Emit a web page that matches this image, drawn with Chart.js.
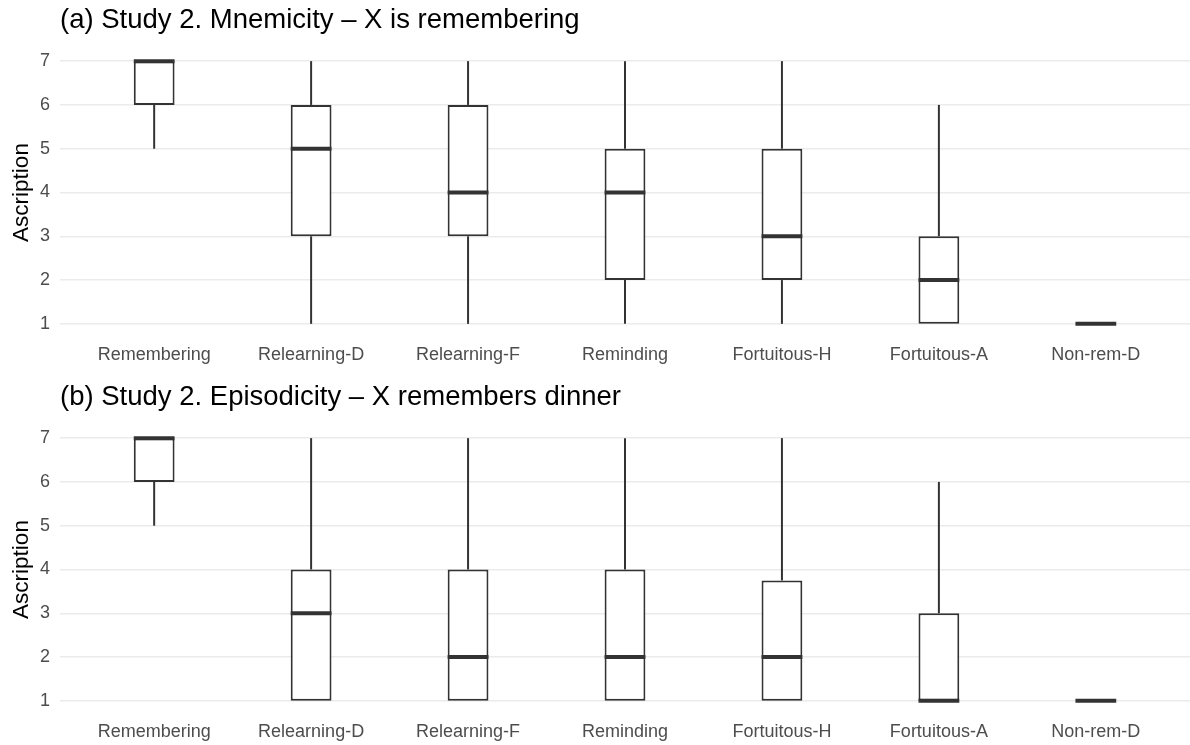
<!DOCTYPE html>
<html>
<head>
<meta charset="utf-8">
<script src="https://cdn.jsdelivr.net/npm/chart.js@4.4.1/dist/chart.umd.min.js"></script>
<style>
  html, body { margin: 0; padding: 0; background: #ffffff; }
  #wrap { position: relative; width: 1190px; height: 745px; }
  .panel { position: absolute; left: 0; width: 1190px; }
  #pa { top: 0; height: 372px; }
  #pb { top: 377px; height: 368px; }
</style>
</head>
<body>
<div id="wrap">
  <div class="panel" id="pa"><canvas id="ca"></canvas></div>
  <div class="panel" id="pb"><canvas id="cb"></canvas></div>
</div>
<script>
// Scenario categories (x axis) and rating scale ticks (y axis)
const categories = ['Remembering', 'Relearning-D', 'Relearning-F', 'Reminding', 'Fortuitous-H', 'Fortuitous-A', 'Non-rem-D'];
const yTicks = [1, 2, 3, 4, 5, 6, 7];

// (a) Mnemicity – five-number summaries per scenario
const titleA = '(a) Study 2. Mnemicity – X is remembering';
const minA = [5, 1, 1, 1, 1, 1, 1];
const q1A  = [6, 3, 3, 2, 2, 1, 1];
const medA = [7, 5, 4, 4, 3, 2, 1];
const q3A  = [7, 6, 6, 5, 5, 3, 1];
const maxA = [7, 7, 7, 7, 7, 6, 1];

// (b) Episodicity – five-number summaries per scenario
const titleB = '(b) Study 2. Episodicity – X remembers dinner';
const minB = [5, 1, 1, 1, 1, 1, 1];
const q1B  = [6, 1, 1, 1, 1, 1, 1];
const medB = [7, 3, 2, 2, 2, 1, 1];
const q3B  = [7, 4, 4, 4, 3.75, 3, 1];
const maxB = [7, 7, 7, 7, 7, 6, 1];

const INK = '#333333';
const FONT = "'Liberation Sans', Arial, Helvetica, sans-serif";

// Whiskers are painted under the boxes, medians on top of them
const boxplotParts = {
  id: 'boxplotParts',
  beforeDatasetsDraw(chart, args, opts) {
    const ctx = chart.ctx;
    const meta = chart.getDatasetMeta(0);
    const y = chart.scales.y;
    ctx.save();
    ctx.strokeStyle = INK;
    ctx.lineWidth = 2;
    ctx.lineCap = 'butt';
    meta.data.forEach((bar, i) => {
      const x = bar.x;
      if (opts.max[i] > opts.q3[i]) {
        ctx.beginPath();
        ctx.moveTo(x, y.getPixelForValue(opts.q3[i]));
        ctx.lineTo(x, y.getPixelForValue(opts.max[i]));
        ctx.stroke();
      }
      if (opts.min[i] < opts.q1[i]) {
        ctx.beginPath();
        ctx.moveTo(x, y.getPixelForValue(opts.q1[i]));
        ctx.lineTo(x, y.getPixelForValue(opts.min[i]));
        ctx.stroke();
      }
    });
    ctx.restore();
  },
  afterDatasetsDraw(chart, args, opts) {
    const ctx = chart.ctx;
    const meta = chart.getDatasetMeta(0);
    const y = chart.scales.y;
    ctx.save();
    ctx.strokeStyle = INK;
    ctx.lineWidth = 4;
    ctx.lineCap = 'butt';
    meta.data.forEach((bar, i) => {
      const hw = bar.width / 2;
      const py = y.getPixelForValue(opts.med[i]);
      ctx.beginPath();
      ctx.moveTo(bar.x - hw, py);
      ctx.lineTo(bar.x + hw, py);
      ctx.stroke();
    });
    ctx.restore();
  }
};

function makePanel(canvasId, title, mins, q1s, meds, q3s, maxs, xAxisHeight) {
  return new Chart(document.getElementById(canvasId), {
    type: 'bar',
    data: {
      datasets: [{
        data: categories.map((c, i) => ({ x: i, y: [q1s[i], q3s[i]] })),
        backgroundColor: '#ffffff',
        borderColor: INK,
        borderWidth: 2,
        borderSkipped: false,
        barPercentage: 0.26,
        categoryPercentage: 1.0
      }]
    },
    options: {
      responsive: true,
      maintainAspectRatio: false,
      animation: false,
      layout: { padding: { left: 0, right: 0, top: 0, bottom: 0 } },
      plugins: {
        legend: { display: false },
        tooltip: { enabled: false },
        title: {
          display: true,
          text: title,
          align: 'start',
          fullSize: false,
          color: '#000000',
          font: { family: FONT, size: 27.5, weight: 'normal' },
          padding: { top: 3.5, bottom: 11.5 }
        },
        boxplotParts: { min: mins, q1: q1s, med: meds, q3: q3s, max: maxs }
      },
      scales: {
        x: {
          type: 'linear',
          offset: false,
          min: -0.6,
          max: categories.length - 0.4,
          afterBuildTicks: s => { s.ticks = categories.map((c, i) => ({ value: i })); },
          afterFit: s => { s.height = xAxisHeight; },
          grid: { display: false, drawTicks: false },
          border: { display: false },
          ticks: {
            autoSkip: false,
            maxRotation: 0,
            padding: 7,
            color: '#4d4d4d',
            font: { family: FONT, size: 18 },
            callback: v => categories[v]
          }
        },
        y: {
          min: 0.7,
          max: 7.3,
          afterBuildTicks: s => { s.ticks = yTicks.map(v => ({ value: v })); },
          afterFit: s => { s.width = 60; },
          grid: { color: '#ebebeb', lineWidth: 1.5, drawTicks: false },
          border: { display: false },
          ticks: {
            padding: 10,
            color: '#4d4d4d',
            font: { family: FONT, size: 18 }
          },
          title: {
            display: true,
            text: 'Ascription',
            color: '#000000',
            font: { family: FONT, size: 22.5 },
            padding: { top: 8, bottom: 0 }
          }
        }
      }
    },
    plugins: [boxplotParts]
  });
}

makePanel('ca', titleA, minA, q1A, medA, q3A, maxA, 35);
makePanel('cb', titleB, minB, q1B, medB, q3B, maxB, 31);
</script>
</body>
</html>
